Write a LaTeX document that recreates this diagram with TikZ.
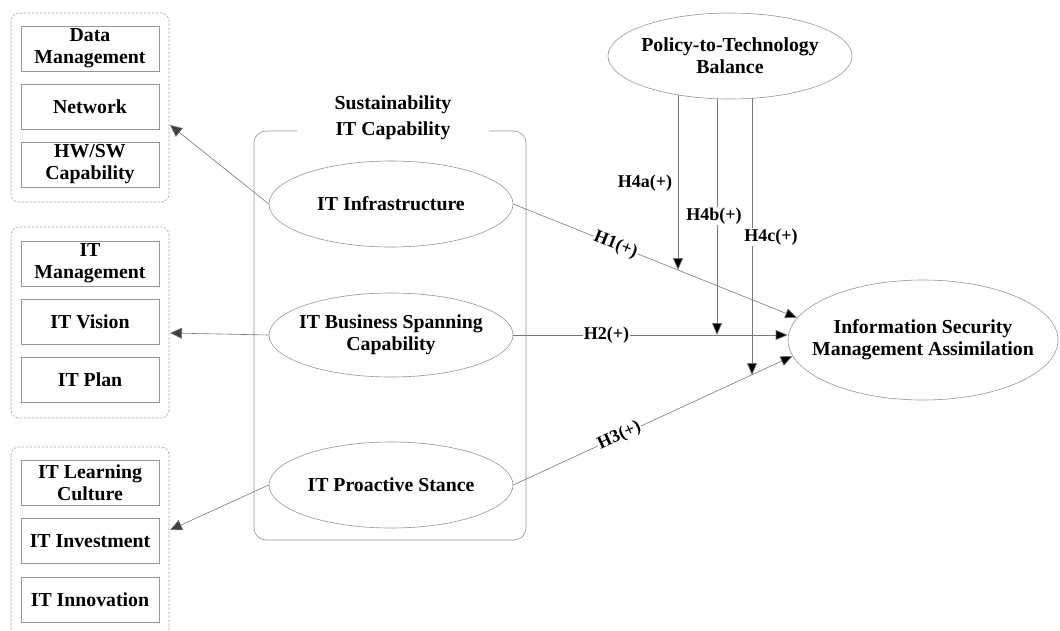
\documentclass[tikz,border=0pt]{standalone}
\usepackage{fontspec}
\setmainfont{Liberation Serif}
\usetikzlibrary{shapes.geometric,arrows.meta}
\definecolor{lgray}{RGB}{150,150,150}
\definecolor{dgray}{RGB}{120,120,120}
\definecolor{hgray}{RGB}{64,64,64}
\tikzset{
  txt/.style={font=\fontsize{19.8}{22}\selectfont\bfseries, align=center, text=black},
  lab/.style={font=\fontsize{18}{20}\selectfont\bfseries, fill=white, inner sep=1pt, text=black},
  ell/.style={ellipse, draw=lgray, line width=0.6pt, inner sep=0pt},
  itembox/.style={draw=lgray, line width=0.6pt, minimum width=138, minimum height=45, inner sep=0pt, txt},
  grp/.style={draw=lgray!80, line width=0.6pt, dash pattern=on 2.5pt off 1.5pt, rounded corners=8},
  leftarr/.style={draw=dgray, line width=0.6pt, -{Triangle[length=12pt,width=11pt,fill=hgray]}},
  mainarr/.style={draw=dgray, line width=0.6pt, -{Triangle[length=12pt,width=10pt,fill=black]}},
  modarr/.style={draw=dgray, line width=0.6pt, -{Triangle[length=12pt,width=10pt,fill=black]}},
}
\begin{document}
\begin{tikzpicture}[x=1pt,y=-1pt]
\useasboundingbox (0,0) rectangle (1060,630);
\clip (0,0) rectangle (1060,630);
\fill[white] (0,0) rectangle (1060,630);

% left groups
\draw[grp] (11,13) rectangle (169,202);
\draw[grp] (11,227) rectangle (169,418);
\draw[grp] (11,447) rectangle (169,645);

\node[itembox] (b1) at (90,48.5) {Data\\Management};
\node[itembox] (b2) at (90,106.5) {Network};
\node[itembox] (b3) at (90,164.5) {HW/SW\\Capability};

\node[itembox] (b4) at (90,263.5) {IT\\Management};
\node[itembox] (b5) at (90,321.5) {IT Vision};
\node[itembox] (b6) at (90,379.5) {IT Plan};

\node[itembox] (b7) at (90,483) {IT Learning\\Culture};
\node[itembox] (b8) at (90,541) {IT Investment};
\node[itembox] (b9) at (90,599.5) {IT Innovation};

% container
\draw[draw=lgray, line width=0.6pt, rounded corners=12] (297,131) -- (254,131) -- (254,540) -- (526,540) -- (526,131) -- (489,131);
\node[txt] (title) at (393,118) {Sustainability\\[4pt]IT Capability};

% ellipses
\node[ell, minimum width=244, minimum height=86] (infra) at (391,204) {};
\node[txt] (infrat) at (infra.center) {IT Infrastructure};
\node[ell, minimum width=244, minimum height=84] (bus) at (391,335) {};
\node[txt] (bust) at (bus.center) {IT Business Spanning\\Capability};
\node[ell, minimum width=244, minimum height=86] (pro) at (391,485) {};
\node[txt] (prot) at (pro.center) {IT Proactive Stance};
\node[ell, minimum width=244, minimum height=86] (pol) at (730,56) {};
\node[txt] (polt) at (pol.center) {Policy-to-Technology\\Balance};
\node[ell, minimum width=270, minimum height=120] (isma) at (923,340) {};
\node[txt] (ismat) at (isma.center) {Information Security\\Management Assimilation};

% left arrow tips
\coordinate (t1) at (170,125);
\coordinate (t2) at (170,333);
\coordinate (t3) at (170,530);
\draw[leftarr] (infra.west) -- (t1);
\draw[leftarr] (bus.west) -- (t2);
\draw[leftarr] (pro.west) -- (t3);

% main hypotheses
\draw[mainarr] (infra.east) -- node[lab, sloped, pos=0.36] (h1) {H1(+)} (isma.170);
\draw[mainarr] (bus.east) -- node[lab, pos=0.34] (h2) {H2(+)} (bus.east -| isma.west);
\draw[mainarr] (pro.east) -- node[lab, sloped, pos=0.38] (h3) {H3(+)} (isma.187);

% moderating lines
\coordinate (s4a) at (678,95);
\coordinate (s4b) at (717,98.8);
\coordinate (s4c) at (752,98.3);
\coordinate (e4a) at (678,270);
\coordinate (e4b) at (717,335);
\coordinate (e4c) at (752,375);
\draw[modarr] (s4a) -- (e4a);
\draw[modarr] (s4b) -- (e4b);
\draw[modarr] (s4c) -- (e4c);
\node[lab] (h4a) at (645,183) {H4a(+)};
\node[lab] (h4b) at (714,216) {H4b(+)};
\node[lab] (h4c) at (771,237) {H4c(+)};
\end{tikzpicture}
\end{document}
